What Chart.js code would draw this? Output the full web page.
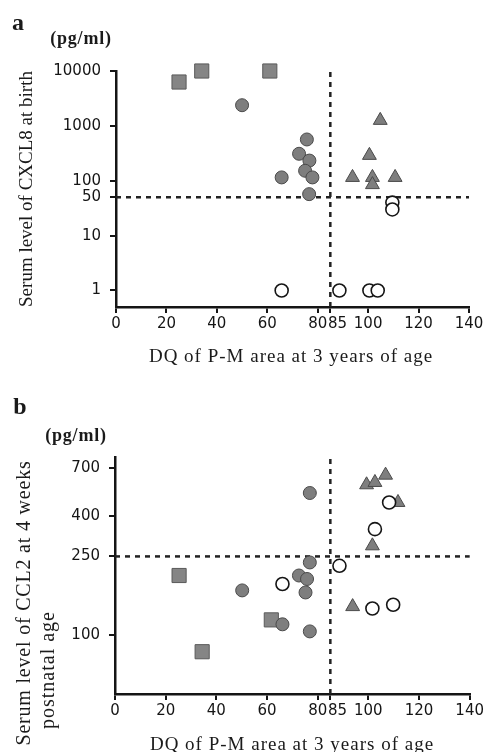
<!DOCTYPE html>
<html><head><meta charset="utf-8">
<script src="https://cdn.jsdelivr.net/npm/chart.js@4.4.0/dist/chart.umd.min.js"></script>
<style>
html,body{margin:0;padding:0;background:#fff;}
body{width:486px;height:752px;position:relative;overflow:hidden;}
canvas{position:absolute;left:0;}
.t{position:absolute;white-space:nowrap;font-family:"Liberation Serif","Times New Roman",serif;color:#1a1a1a;transform:translate(-50%,-50%);line-height:1;}
.r{transform:translate(-50%,-50%) rotate(-90deg);}
</style></head><body>
<canvas id="ca" width="486" height="376" style="top:0;width:486px;height:376px;"></canvas>
<canvas id="cb" width="486" height="376" style="top:376px;width:486px;height:376px;"></canvas>

<div class="t" style="left:18px;top:22px;font-size:24px;font-weight:bold;">a</div>
<div class="t" style="left:81px;top:38px;font-size:18px;font-weight:bold;letter-spacing:0.8px;">(pg/ml)</div>
<div class="t r" style="left:25px;top:189px;font-size:19px;">Serum level of CXCL8 at birth</div>
<div class="t" style="left:291px;top:355px;font-size:19px;letter-spacing:1px;">DQ of P-M area at 3 years of age</div>

<div class="t" style="left:20px;top:406px;font-size:24px;font-weight:bold;">b</div>
<div class="t" style="left:76px;top:435px;font-size:18px;font-weight:bold;letter-spacing:0.8px;">(pg/ml)</div>
<div class="t r" style="left:23px;top:603px;font-size:20px;letter-spacing:0.8px;">Serum level of CCL2 at 4 weeks</div>
<div class="t r" style="left:47px;top:670px;font-size:20px;letter-spacing:1px;">postnatal age</div>
<div class="t" style="left:292px;top:743px;font-size:19px;letter-spacing:1px;">DQ of P-M area at 3 years of age</div>

<script>
// ---------- shared x axis ----------
const xTicks = [0, 20, 40, 60, 80, 85, 100, 120, 140];
const dqCutoff = 85;

// ---------- panel a: CXCL8 at birth ----------
const yTicksA = [1, 10, 50, 100, 1000, 10000];
const thresholdA = 50;
const squaresA_x = [25, 34, 61];
const squaresA_y = [6300, 10000, 10000];
const filledA_x = [50, 75.7, 72.6, 76.7, 75, 77.9, 65.7, 76.6];
const filledA_y = [2380, 565, 310, 233, 152, 115, 115, 57];
const trianglesA_x = [104.8, 100.5, 93.8, 101.7, 101.7, 110.7];
const trianglesA_y = [1260, 290, 115, 115, 85, 115];
const openA_x = [109.6, 109.6, 65.7, 88.6, 100.5, 103.8];
const openA_y = [40, 30, 1, 1, 1, 1];

// ---------- panel b: CCL2 at 4 weeks ----------
const yTicksB = [100, 250, 400, 700];
const thresholdB = 250;
const squaresB_x = [25.3, 61.7, 34.4];
const squaresB_y = [200, 119, 82];
const filledB_x = [76.9, 76.9, 72.6, 75.8, 75.2, 50.2, 66.1, 76.9];
const filledB_y = [525, 233, 200, 192, 164, 168, 113, 104];
const trianglesB_x = [99.3, 102.6, 106.8, 111.7, 101.6, 93.8];
const trianglesB_y = [578, 594, 647, 470, 283, 139];
const openB_x = [108.2, 102.6, 88.6, 66.1, 101.6, 109.8];
const openB_y = [470, 344, 224, 181, 136, 142];

const pts = (xs, ys) => xs.map((x, i) => ({x: x, y: ys[i]}));
const GRAY = '#7e7e7e', GRAYB = '#4a4a4a', INK = '#151515';
const tickFont = {family: 'DejaVu Sans', size: 15};

function markerSets(sx, sy, fx, fy, tx, ty, ox, oy) {
  return [
    {data: pts(ox, oy), pointStyle: 'circle', pointRadius: 6.5, backgroundColor: '#ffffff', borderColor: INK, borderWidth: 1.6, clip: false},
    {data: pts(fx, fy), pointStyle: 'circle', pointRadius: 6.5, backgroundColor: GRAY, borderColor: GRAYB, borderWidth: 1, clip: false},
    {data: pts(tx, ty), pointStyle: 'triangle', pointRadius: 8, backgroundColor: GRAY, borderColor: GRAYB, borderWidth: 1, clip: false},
    {data: pts(sx, sy), pointStyle: 'rect', pointRadius: 10, backgroundColor: '#858585', borderColor: '#5a5a5a', borderWidth: 1, clip: false}
  ];
}
function guideSets(yMin, yMax, thr) {
  const base = {type: 'line', borderColor: '#222', borderWidth: 2.5, borderDash: [5, 5], pointRadius: 0, fill: false, showLine: true, clip: false};
  return [
    Object.assign({}, base, {data: [{x: 0, y: thr}, {x: 140, y: thr}]}),
    Object.assign({}, base, {data: [{x: dqCutoff, y: yMin}, {x: dqCutoff, y: yMax}]})
  ];
}
// the 85 label sits just right of the 80 label, as in the original
const xLabel = v => (v === dqCutoff ? '   ' + v : String(v));

function build(id, opts) {
  const axisCommon = {
    border: {display: true, color: INK, width: 2.5},
    grid: {display: true, drawOnChartArea: false, drawTicks: true, tickLength: 6, color: INK, lineWidth: 2},
  };
  new Chart(document.getElementById(id), {
    type: 'scatter',
    data: {datasets: opts.markers.concat(opts.guides)},
    options: {
      responsive: false, animation: false, events: [],
      layout: {padding: opts.padding},
      plugins: {legend: {display: false}, tooltip: {enabled: false}},
      scales: {
        x: Object.assign({}, axisCommon, {
          type: 'linear', min: 0, max: 140,
          afterBuildTicks: s => { s.ticks = xTicks.map(v => ({value: v})); },
          afterFit: s => { s.height = opts.xH; },
          ticks: {autoSkip: false, maxRotation: 0, minRotation: 0, padding: 2, color: INK, font: tickFont, callback: xLabel}
        }),
        y: Object.assign({}, axisCommon, {
          type: 'logarithmic', min: opts.yMin, max: opts.yMax,
          afterBuildTicks: s => { s.ticks = opts.yTicks.map(v => ({value: v})); },
          afterFit: s => { s.width = opts.yW; },
          ticks: {autoSkip: false, padding: 9, color: INK, font: tickFont, callback: v => String(v)}
        })
      }
    }
  });
}

build('ca', {
  markers: markerSets(squaresA_x, squaresA_y, filledA_x, filledA_y, trianglesA_x, trianglesA_y, openA_x, openA_y),
  guides: guideSets(0.5, 10000, thresholdA),
  yTicks: yTicksA, yMin: 0.5, yMax: 10000,
  padding: {top: 71, right: 17, left: 0, bottom: 0}, xH: 69, yW: 116
});
build('cb', {
  markers: markerSets(squaresB_x, squaresB_y, filledB_x, filledB_y, trianglesB_x, trianglesB_y, openB_x, openB_y),
  guides: guideSets(50, 800, thresholdB),
  yTicks: yTicksB, yMin: 50, yMax: 800,
  padding: {top: 81, right: 15, left: 0, bottom: 0}, xH: 58, yW: 115
});
</script>
</body></html>
